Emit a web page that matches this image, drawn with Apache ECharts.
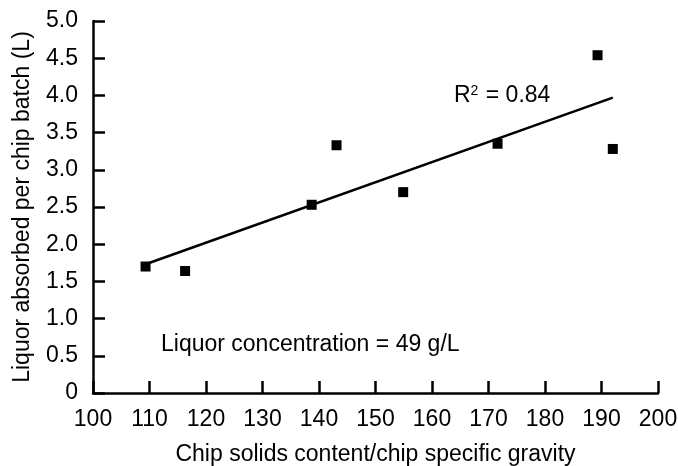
<!DOCTYPE html>
<html>
<head>
<meta charset="utf-8">
<script src="https://cdn.jsdelivr.net/npm/echarts@6/dist/echarts.min.js"></script>
<style>
  html, body { margin: 0; padding: 0; background: #fff; }
  #main { width: 678px; height: 466px; }
</style>
</head>
<body>
<div id="main"></div>
<script>
  // measured points
  var solidsX = [109.3, 116.3, 138.7, 143.1, 154.9, 171.6, 189.3, 192.0];
  var liquorY = [1.70, 1.64, 2.53, 3.33, 2.70, 3.35, 4.54, 3.28];
  // fitted line endpoints
  var trendX = [109.3, 192.0];
  var trendY = [1.73, 3.97];

  var font = 'Liberation Sans, Arial, sans-serif';
  var fs = 23;
  var myChart = echarts.init(document.getElementById('main'));

  var pts = solidsX.map(function (x, i) { return [x, liquorY[i]]; });
  var line = trendX.map(function (x, i) { return [x, trendY[i]]; });

  myChart.setOption({
    animation: false,
    textStyle: { fontFamily: font, color: '#000' },
    grid: { left: 93, right: 20, top: 21, bottom: 73, outerBoundsMode: 'none', containLabel: false },
    xAxis: {
      type: 'value', min: 100, max: 200, interval: 10,
      name: 'Chip solids content/chip specific gravity',
      nameLocation: 'middle', nameGap: 50,
      nameTextStyle: { fontSize: fs, color: '#000', fontFamily: font },
      axisLine: { lineStyle: { color: '#000', width: 2.5 } },
      axisTick: { inside: true, length: 12, lineStyle: { color: '#000', width: 2.5 } },
      axisLabel: { fontSize: fs, color: '#000', margin: 15, fontFamily: font },
      splitLine: { show: false }
    },
    yAxis: {
      type: 'value', min: 0, max: 5, interval: 0.5,
      name: 'Liquor absorbed per chip batch (L)',
      nameLocation: 'middle', nameGap: 59,
      nameTextStyle: { fontSize: fs, color: '#000', fontFamily: font },
      axisLine: { show: true, lineStyle: { color: '#000', width: 2.5 } },
      axisTick: { show: true, inside: true, length: 12, lineStyle: { color: '#000', width: 2.5 } },
      axisLabel: {
        fontSize: fs, color: '#000', margin: 15, fontFamily: font,
        formatter: function (v) { return v === 0 ? '0' : v.toFixed(1); }
      },
      splitLine: { show: false }
    },
    series: [
      {
        type: 'line', data: line, symbol: 'none',
        lineStyle: { color: '#000', width: 2.5 }, z: 2
      },
      {
        type: 'scatter', data: pts, symbol: 'rect', symbolSize: 10,
        itemStyle: { color: '#000', opacity: 1 }, z: 3
      }
    ],
    graphic: [
      {
        type: 'text', left: 454, top: 84,
        style: {
          text: 'R{sup|2} = 0.84',
          font: fs + 'px ' + font, fill: '#000',
          rich: { sup: { fontSize: 14, verticalAlign: 'top', padding: [0, 1, 10, 0], fill: '#000' } }
        }
      },
      {
        type: 'text', left: 161, top: 333,
        style: { text: 'Liquor concentration = 49 g/L', font: fs + 'px ' + font, fill: '#000' }
      }
    ]
  });
</script>
</body>
</html>
